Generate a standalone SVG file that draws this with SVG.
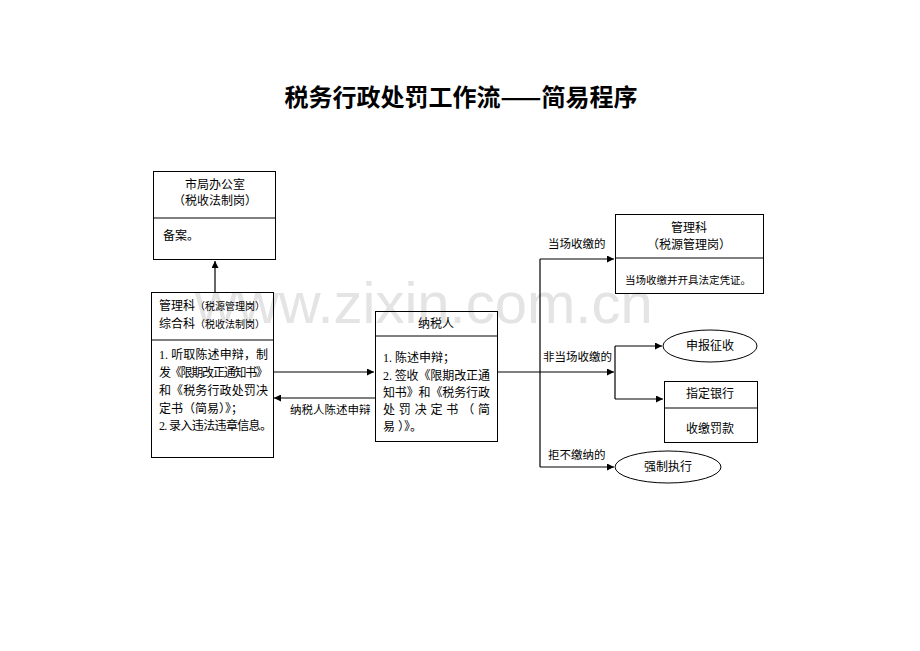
<svg xmlns="http://www.w3.org/2000/svg" width="920" height="651" viewBox="0 0 920 651">
<defs>
<style>
.t{font-family:"Liberation Serif","Noto Sans CJK SC",serif;font-size:12px;fill:#000}
.s{font-size:10px}
.m{text-anchor:middle}
.box{fill:none;stroke:#000;stroke-width:1}
.ln{fill:none;stroke:#000;stroke-width:1.2}
.wm{font-family:"Liberation Sans",Arial,sans-serif;font-size:58px;fill:#e4e4e4}
</style>
<marker id="ah" viewBox="0 0 10 10" refX="10" refY="5" markerWidth="8" markerHeight="7" markerUnits="userSpaceOnUse" orient="auto">
<path d="M0,0 L10,5 L0,10 z" fill="#000"/>
</marker>
</defs>
<rect width="920" height="651" fill="#fff"/>
<text class="wm" x="195" y="323">www.zixin.com.cn</text>
<text x="461" y="106" text-anchor="middle" style="font-family:'Noto Sans CJK SC',sans-serif;font-size:24px;font-weight:bold">税务行政处罚工作流——简易程序</text>

<g id="connectors">
<path class="ln" d="M215,292 V261" marker-end="url(#ah)"/>
<path class="ln" d="M273,372 H374" marker-end="url(#ah)"/>
<path class="ln" d="M375,398 H274" marker-end="url(#ah)"/>
<path class="ln" d="M497,372 H614" marker-end="url(#ah)"/>
<path class="ln" d="M540,259 V467"/>
<path class="ln" d="M540,259 H614" marker-end="url(#ah)"/>
<path class="ln" d="M540,467 H614" marker-end="url(#ah)"/>
<path class="ln" d="M615,346 V399"/>
<path class="ln" d="M615,346 H662" marker-end="url(#ah)"/>
<path class="ln" d="M615,399 H663" marker-end="url(#ah)"/>
<text class="t" x="290" y="414" style="font-size:11.5px">纳税人陈述申辩</text>
<text class="t" x="548" y="248" style="font-size:11.5px">当场收缴的</text>
<text class="t" x="543" y="361" style="font-size:11.5px">非当场收缴的</text>
<text class="t" x="548" y="459" style="font-size:11.5px">拒不缴纳的</text>
</g>

<g id="office">
<rect class="box" x="153.5" y="171.5" width="122" height="88"/>
<line class="box" x1="153.5" y1="218" x2="275.5" y2="218"/>
<text class="t m" x="215" y="189">市局办公室</text>
<text class="t m" x="215" y="205">（税收法制岗）</text>
<text class="t" x="163" y="240">备案。</text>
</g>

<g id="mgmt">
<rect class="box" x="151.5" y="292.5" width="122" height="165"/>
<line class="box" x1="151.5" y1="340" x2="273.5" y2="340"/>
<text class="t" x="159" y="310">管理科<tspan class="s">（税源管理岗）</tspan></text>
<text class="t" x="159" y="328">综合科<tspan class="s">（税收法制岗）</tspan></text>
<text class="t" x="159" y="359" textLength="109" lengthAdjust="spacing">1. 听取陈述申辩，制</text>
<text class="t" x="159" y="377" textLength="109" lengthAdjust="spacing">发《限期改正通知书》</text>
<text class="t" x="159" y="395" textLength="109" lengthAdjust="spacing">和《税务行政处罚决</text>
<text class="t" x="159" y="413">定书（简易）》；</text>
<text class="t" x="159" y="430" textLength="113" lengthAdjust="spacing">2. 录入违法违章信息。</text>
</g>

<g id="taxpayer">
<rect class="box" x="375.5" y="311.5" width="122" height="130"/>
<line class="box" x1="375.5" y1="336" x2="497.5" y2="336"/>
<text class="t m" x="436" y="328">纳税人</text>
<text class="t" x="383" y="362">1. 陈述申辩；</text>
<text class="t" x="383" y="380" textLength="107" lengthAdjust="spacing">2. 签收《限期改正通</text>
<text class="t" x="383" y="397" textLength="107" lengthAdjust="spacing">知书》和《税务行政</text>
<text class="t" x="383" y="414" textLength="107" lengthAdjust="spacing">处 罚 决 定 书 （ 简</text>
<text class="t" x="383" y="431">易 ）》。</text>
</g>

<g id="mgmt2">
<rect class="box" x="615.5" y="214.5" width="148" height="79"/>
<line class="box" x1="615.5" y1="258" x2="763.5" y2="258"/>
<text class="t m" x="689" y="232">管理科</text>
<text class="t m" x="689" y="249">（税源管理岗）</text>
<text class="t" x="625" y="284" style="font-size:10.5px">当场收缴并开具法定凭证。</text>
</g>

<g id="declare">
<ellipse class="box" cx="710" cy="346" rx="47" ry="16"/>
<text class="t m" x="710" y="350">申报征收</text>
</g>

<g id="bank">
<rect class="box" x="664.5" y="381.5" width="93" height="61"/>
<line class="box" x1="664.5" y1="408" x2="757.5" y2="408"/>
<text class="t m" x="710" y="398">指定银行</text>
<text class="t m" x="710" y="433">收缴罚款</text>
</g>

<g id="enforce">
<ellipse class="box" cx="668" cy="467" rx="53" ry="16"/>
<text class="t m" x="668" y="471">强制执行</text>
</g>
</svg>
